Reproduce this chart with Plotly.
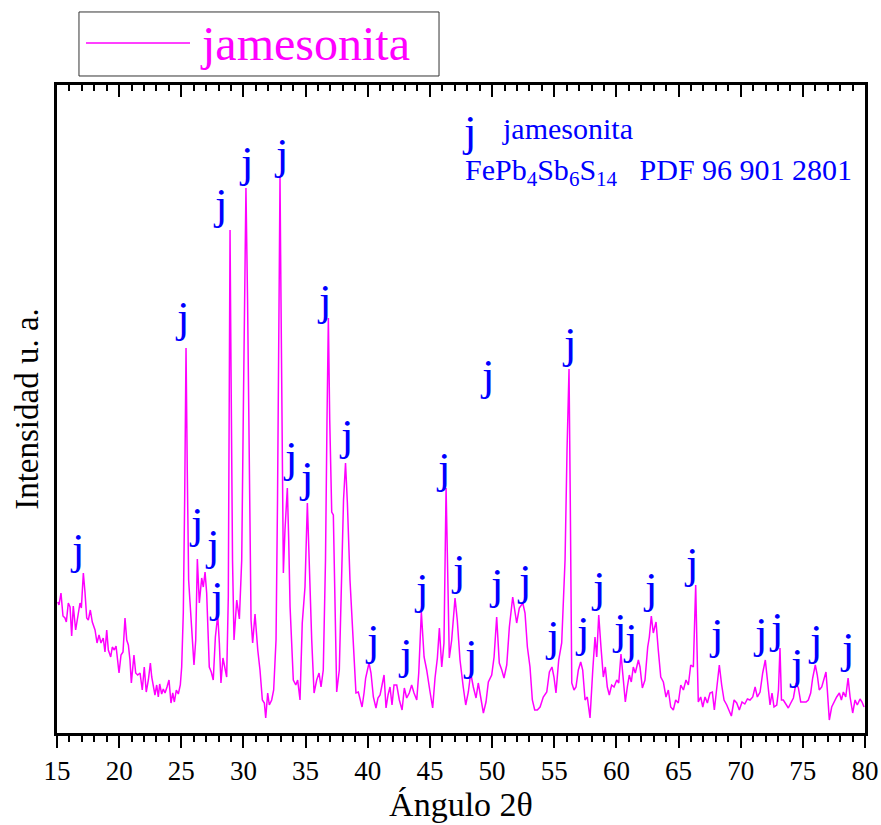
import plotly.graph_objects as go

# ---- data (2theta in degrees, intensity in a.u.) ----
two_theta = [15.06, 15.16, 15.32, 15.48, 15.64, 15.75, 15.91, 16.05, 16.18, 16.31, 16.50, 16.67, 16.85, 16.96,
             17.12, 17.25, 17.39, 17.52, 17.68, 17.84, 18.06, 18.22, 18.38, 18.54, 18.72, 18.86, 19.00, 19.13,
             19.32, 19.45, 19.61, 19.75, 19.85, 19.99, 20.15, 20.31, 20.47, 20.61, 20.74, 20.87, 20.98, 21.09,
             21.19, 21.33, 21.49, 21.68, 21.86, 22.02, 22.18, 22.35, 22.51, 22.62, 22.78, 22.88, 23.02, 23.15,
             23.26, 23.42, 23.55, 23.69, 23.85, 24.01, 24.17, 24.31, 24.44, 24.60, 24.76, 24.92, 25.03, 25.16,
             25.27, 25.38, 25.48, 25.59, 25.70, 25.86, 26.02, 26.16, 26.29, 26.45, 26.64, 26.77, 26.91, 27.04,
             27.25, 27.41, 27.57, 27.74, 27.93, 28.06, 28.19, 28.35, 28.52, 28.65, 28.78, 28.86, 28.92, 29.00,
             29.12, 29.24, 29.46, 29.67, 29.86, 30.00, 30.12, 30.20, 30.33, 30.47, 30.61, 30.74, 30.93, 31.15,
             31.33, 31.52, 31.68, 31.79, 31.95, 32.08, 32.27, 32.43, 32.62, 32.74, 32.86, 32.94, 33.02, 33.13,
             33.21, 33.34, 33.53, 33.64, 33.75, 34.01, 34.21, 34.36, 34.55, 34.73, 34.95, 35.14, 35.27, 35.49,
             35.68, 35.89, 36.08, 36.24, 36.42, 36.60, 36.72, 36.83, 36.94, 37.10, 37.23, 37.37, 37.50, 37.71,
             37.90, 38.05, 38.21, 38.36, 38.57, 38.84, 39.05, 39.24, 39.38, 39.54, 39.70, 39.83, 40.10, 40.26,
             40.45, 40.66, 40.82, 40.99, 41.15, 41.31, 41.47, 41.63, 41.79, 41.95, 42.11, 42.33, 42.54, 42.76,
             42.94, 43.13, 43.34, 43.53, 43.72, 43.94, 44.10, 44.31, 44.53, 44.74, 45.01, 45.22, 45.41, 45.60,
             45.76, 45.95, 46.13, 46.21, 46.30, 46.40, 46.56, 46.75, 47.02, 47.20, 47.42, 47.68, 47.88, 48.09,
             48.28, 48.49, 48.71, 48.89, 49.11, 49.30, 49.51, 49.70, 49.97, 50.16, 50.37, 50.58, 50.78, 50.96,
             51.18, 51.39, 51.66, 51.85, 51.98, 52.19, 52.47, 52.65, 52.84, 53.05, 53.24, 53.43, 53.64, 53.86,
             54.12, 54.40, 54.61, 54.82, 54.98, 55.14, 55.36, 55.60, 55.87, 56.03, 56.19, 56.29, 56.41, 56.59,
             56.75, 56.94, 57.13, 57.29, 57.48, 57.66, 57.88, 58.10, 58.28, 58.42, 58.58, 58.76, 58.95, 59.11,
             59.27, 59.43, 59.62, 59.81, 60.03, 60.19, 60.37, 60.56, 60.72, 60.88, 61.04, 61.20, 61.36, 61.52,
             61.77, 61.90, 62.09, 62.30, 62.52, 62.65, 62.81, 62.97, 63.19, 63.37, 63.57, 63.78, 63.99, 64.18,
             64.37, 64.58, 64.77, 64.98, 65.18, 65.39, 65.60, 65.79, 65.98, 66.19, 66.29, 66.38, 66.49, 66.59,
             66.78, 66.95, 67.13, 67.32, 67.53, 67.72, 67.88, 68.07, 68.28, 68.47, 68.66, 68.88, 69.06, 69.25,
             69.47, 69.68, 69.89, 70.11, 70.33, 70.54, 70.75, 70.97, 71.16, 71.34, 71.56, 71.77, 71.98, 72.17,
             72.36, 72.52, 72.68, 72.90, 73.04, 73.16, 73.28, 73.43, 73.65, 73.83, 74.03, 74.24, 74.45, 74.64,
             74.83, 75.04, 75.26, 75.44, 75.63, 75.79, 76.00, 76.16, 76.32, 76.52, 76.70, 76.86, 76.97, 77.13,
             77.32, 77.51, 77.72, 77.94, 78.10, 78.26, 78.45, 78.64, 78.80, 79.01, 79.20, 79.38, 79.60, 79.76,
             79.92]

intensity = [131, 128, 140, 117, 115, 111, 130, 126, 97, 127, 103, 116, 130, 125,
             160, 141, 115, 113, 123, 111, 103, 90, 98, 90, 95, 81, 103, 83,
             76, 86, 83, 87, 78, 60, 78, 81, 115, 93, 88, 73, 50, 65,
             78, 60, 58, 60, 43, 66, 41, 53, 70, 56, 45, 38, 48, 36,
             49, 39, 44, 40, 46, 53, 30, 40, 31, 43, 39, 48, 66, 120,
             233, 385, 263, 153, 131, 103, 68, 93, 174, 130, 155, 146, 161, 140,
             66, 61, 53, 96, 118, 90, 50, 75, 66, 56, 136, 313, 503, 363,
             173, 93, 133, 114, 173, 333, 483, 545, 433, 233, 113, 90, 119, 83,
             63, 33, 30, 15, 40, 28, 33, 43, 93, 233, 433, 556, 433, 233,
             160, 203, 245, 193, 126, 53, 48, 53, 33, 110, 146, 230, 173, 93,
             40, 53, 60, 46, 63, 173, 313, 415, 313, 221, 218, 133, 41, 63,
             163, 233, 270, 230, 153, 86, 40, 41, 35, 26, 40, 55, 70, 60,
             36, 25, 35, 38, 48, 58, 25, 38, 46, 28, 48, 48, 33, 23,
             45, 35, 40, 48, 40, 33, 60, 121, 76, 63, 41, 25, 55, 75,
             105, 66, 90, 173, 245, 180, 75, 93, 135, 113, 73, 46, 28, 41,
             60, 46, 35, 50, 36, 20, 31, 51, 58, 76, 116, 70, 63, 55,
             68, 106, 136, 120, 110, 125, 130, 120, 86, 66, 33, 23, 23, 26,
             36, 41, 61, 66, 56, 40, 73, 90, 173, 283, 364, 233, 50, 43,
             46, 63, 71, 63, 33, 36, 15, 63, 96, 76, 118, 86, 56, 66,
             46, 38, 48, 46, 53, 50, 79, 53, 31, 46, 58, 51, 66, 60,
             73, 66, 45, 53, 86, 96, 117, 100, 111, 83, 56, 51, 36, 43,
             26, 23, 33, 30, 48, 43, 53, 48, 68, 66, 113, 148, 83, 31,
             36, 26, 36, 30, 40, 41, 23, 46, 68, 48, 33, 28, 23, 17,
             33, 30, 23, 31, 29, 34, 33, 36, 46, 36, 41, 60, 73, 48,
             28, 40, 26, 28, 43, 85, 33, 33, 28, 25, 30, 35, 50, 45,
             31, 31, 31, 33, 40, 55, 68, 58, 43, 46, 55, 61, 43, 13,
             26, 31, 36, 40, 33, 41, 36, 55, 36, 20, 33, 28, 34, 31,
             26]

# "j" (jamesonita) peak markers: positions of the labels
j_x = [16.61, 25.06, 26.26, 27.47, 27.87, 28.19, 30.21, 33.06, 33.75, 35.07, 36.52, 38.25,
       40.34, 43.00, 44.32, 46.09, 47.30, 48.23, 50.36, 52.61, 49.67, 56.23, 54.90, 57.28,
       58.56, 60.21, 61.14, 62.75, 66.05, 68.06, 71.56, 72.88, 74.49, 76.02, 78.56]
j_y = [184, 416, 210, 188, 136, 529, 571, 579, 276, 256, 433, 298,
       93, 79, 144, 265, 163, 78, 149, 153, 358, 390, 97, 101,
       146, 104, 94, 145, 170, 99, 100, 105, 69, 93, 85]

x_ticks = [15, 20, 25, 30, 35, 40, 45, 50, 55, 60, 65, 70, 75, 80]
series_name = "jamesonita"
x_title = "Ángulo 2θ"
y_title = "Intensidad u. a."

MAGENTA = "#FF00FF"
BLUE = "#0000FF"
FONT = "Liberation Serif"

fig = go.Figure()
fig.add_trace(go.Scatter(x=two_theta, y=intensity, mode="lines", name=series_name,
                         line=dict(color=MAGENTA, width=1.5), showlegend=False))
# helper trace to activate the top axis (inside ticks)
fig.add_trace(go.Scatter(x=[15], y=[0], xaxis="x2", mode="markers",
                         marker=dict(opacity=0), hoverinfo="skip", showlegend=False))

for xx, yy in zip(j_x, j_y):
    fig.add_annotation(x=xx, y=yy, xref="x", yref="y", text="j", showarrow=False,
                       font=dict(family=FONT, size=45, color=BLUE), xanchor="center", yanchor="middle")

# phase key in the upper right
fig.add_annotation(x=48.15, y=602, xref="x", yref="y", text="j", showarrow=False,
                   font=dict(family=FONT, size=45, color=BLUE), xanchor="center", yanchor="middle")
fig.add_annotation(x=50.64, y=605, xref="x", yref="y", text="jamesonita", showarrow=False,
                   font=dict(family=FONT, size=30, color=BLUE), xanchor="left", yanchor="middle")
fig.add_annotation(x=47.66, y=561, xref="x", yref="y",
                   text="FePb<sub>4</sub>Sb<sub>6</sub>S<sub>14</sub>\u00a0\u00a0\u00a0PDF 96 901 2801",
                   showarrow=False, font=dict(family=FONT, size=30, color=BLUE),
                   xanchor="left", yanchor="middle")

# legend box (drawn by hand to match the long line sample)
fig.add_shape(type="rect", xref="paper", yref="paper", x0=0.0272, x1=0.4728, y0=1.0139, y1=1.1127,
              line=dict(color="#333333", width=1), fillcolor="white", layer="above")
fig.add_shape(type="line", xref="paper", yref="paper", x0=0.0359, x1=0.1646, y0=1.0648, y1=1.0648,
              line=dict(color=MAGENTA, width=1.5), layer="above")
fig.add_annotation(x=0.175, y=1.0640, xref="paper", yref="paper", text=series_name, showarrow=False,
                   font=dict(family=FONT, size=48, color=MAGENTA), xanchor="left", yanchor="middle")

fig.update_layout(
    width=881, height=825,
    margin=dict(l=57, r=16, t=85, b=92),
    plot_bgcolor="white", paper_bgcolor="white",
    font=dict(family=FONT, color="black"),
    xaxis=dict(range=[15, 80], tickvals=x_ticks, ticks="outside", ticklen=12, tickwidth=2,
               tickcolor="black", showline=True, linewidth=2.5, linecolor="black", mirror=True,
               showgrid=False, zeroline=False, tickfont=dict(family=FONT, size=27), automargin=False,
               minor=dict(dtick=1, tick0=15, ticks="outside", ticklen=6, tickwidth=1.5, tickcolor="black"),
               title=dict(text=x_title, font=dict(family=FONT, size=34), standoff=6)),
    xaxis2=dict(range=[15, 80], overlaying="x", side="top", tickvals=x_ticks, ticks="inside",
                ticklen=12, tickwidth=2, tickcolor="black", showticklabels=False, showline=False,
                showgrid=False, zeroline=False, automargin=False,
                minor=dict(dtick=1, tick0=15, ticks="inside", ticklen=6, tickwidth=1.5, tickcolor="black")),
    yaxis=dict(range=[0, 648], showticklabels=False, ticks="", showline=True, linewidth=2.5,
               linecolor="black", mirror=True, showgrid=False, zeroline=False, automargin=False,
               title=dict(text=y_title, font=dict(family=FONT, size=33), standoff=6)),
)

fig.write_html("out.html")
